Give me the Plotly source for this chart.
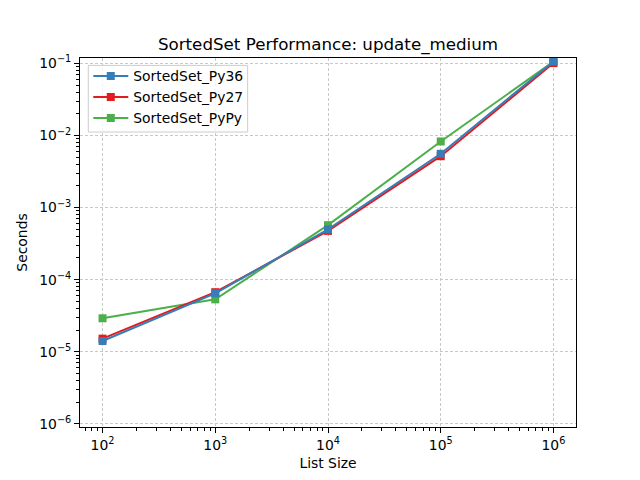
import plotly.graph_objects as go

sizes = [100, 1000, 10000, 100000, 1000000]
py36 = [1.41e-5, 6.45e-5, 4.98e-4, 5.57e-3, 0.1066]
py27 = [1.52e-5, 6.7e-5, 4.75e-4, 5.16e-3, 0.101]
pypy = [2.91e-5, 5.33e-5, 5.7e-4, 8.26e-3, 0.106]

x_tickvals = [1e2, 1e3, 1e4, 1e5, 1e6]
x_ticktext = ['10<sup>2</sup>', '10<sup>3</sup>', '10<sup>4</sup>', '10<sup>5</sup>', '10<sup>6</sup>']
y_tickvals = [1e-6, 1e-5, 1e-4, 1e-3, 1e-2, 1e-1]
y_ticktext = ['10<sup>\u22126</sup>', '10<sup>\u22125</sup>', '10<sup>\u22124</sup>',
              '10<sup>\u22123</sup>', '10<sup>\u22122</sup>', '10<sup>\u22121</sup>']

# minor ticks at 2..9 of each decade, like matplotlib's log locator
x_minor = [k * 10 ** e for e in range(1, 7) for k in range(2, 10)]
y_minor = [k * 10.0 ** e for e in range(-7, 0) for k in range(2, 10)]

fig = go.Figure()

# drawn bottom-up so Py36 sits on top; legend reversed to keep Py36 first
for name, vals, color in [('SortedSet_PyPy', pypy, '#4daf4a'),
                          ('SortedSet_Py27', py27, '#e41a1c'),
                          ('SortedSet_Py36', py36, '#377eb8')]:
    fig.add_trace(go.Scatter(
        x=sizes, y=vals, name=name,
        mode='lines+markers',
        line=dict(color=color, width=2),
        marker=dict(symbol='square', size=8, color=color)))

axis_common = dict(
    type='log', automargin=False,
    showline=True, linecolor='black', linewidth=1, mirror=True,
    ticks='outside', ticklen=5, tickwidth=1, tickcolor='black',
    showgrid=True, gridcolor='#c8c8c8', gridwidth=0.7, griddash='3px,2px',
    zeroline=False,
    tickfont=dict(size=13.9, color='black'),
)

fig.update_xaxes(
    range=[1.8, 6.2], tickmode='array', tickvals=x_tickvals, ticktext=x_ticktext,
    minor=dict(ticks='outside', ticklen=3, tickcolor='black', tickmode='array',
               tickvals=x_minor, showgrid=False),
    title=dict(text='List Size', font=dict(size=13.9, color='black'), standoff=6),
    **axis_common)
fig.update_yaxes(
    range=[-6.044, -0.925], tickmode='array', tickvals=y_tickvals, ticktext=y_ticktext,
    minor=dict(ticks='outside', ticklen=3, tickcolor='black', tickmode='array',
               tickvals=y_minor, showgrid=False),
    title=dict(text='Seconds', font=dict(size=13.9, color='black'), standoff=8),
    **axis_common)

# legend frame drawn as a shape so its padding matches the matplotlib box
fig.add_shape(type='rect', xref='paper', yref='paper',
              x0=0.0167, x1=0.338, y0=0.7995, y1=0.98,
              line=dict(color='#cccccc', width=1),
              fillcolor='rgba(255,255,255,0.8)', layer='above')

# the page body adds an 8px offset, so margins are shifted to compensate
fig.update_layout(
    width=640, height=480,
    margin=dict(l=72, r=72, t=50, b=61),
    paper_bgcolor='white', plot_bgcolor='white',
    font=dict(family='DejaVu Sans', color='black'),
    title=dict(text='SortedSet Performance: update_medium', x=0.5, xanchor='center',
               xref='paper', y=1 - 36 / 480, yanchor='middle',
               font=dict(size=16.7, color='black')),
    showlegend=True,
    legend=dict(x=0.0167, y=0.9935, xanchor='left', yanchor='top',
                traceorder='reversed',
                bgcolor='rgba(0,0,0,0)', borderwidth=0,
                font=dict(size=13.9, color='black'), tracegroupgap=0,
                itemwidth=35),
)

fig.write_html("out.html")
